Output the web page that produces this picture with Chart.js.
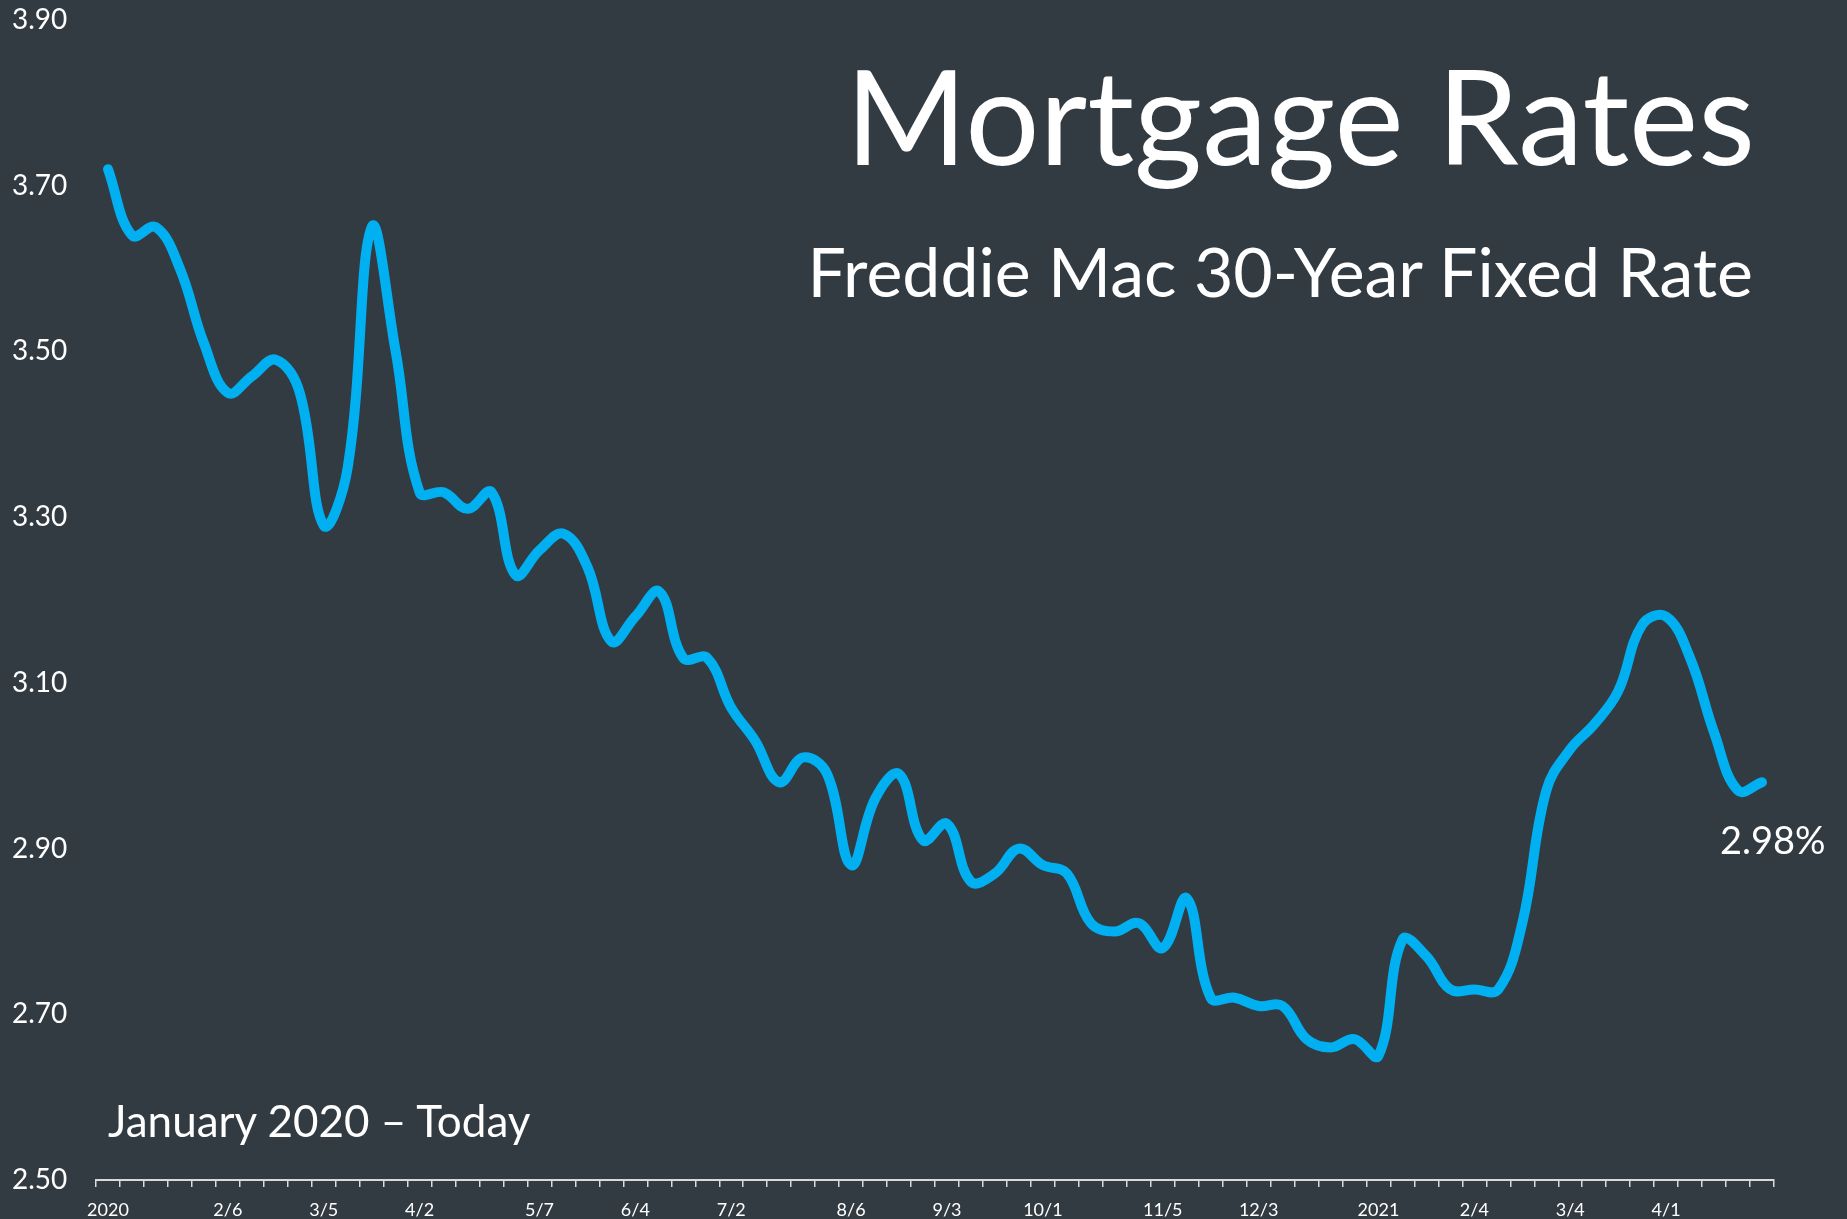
<!DOCTYPE html>
<html>
<head>
<meta charset="utf-8">
<script src="https://cdn.jsdelivr.net/npm/chart.js@4.4.1/dist/chart.umd.min.js"></script>
<style>
  body { margin: 0; background: #323a42; overflow: hidden; }
  #wrap { position: relative; width: 1847px; height: 1219px; }
  .txt { position: absolute; color: #ffffff; font-family: Lato, "Open Sans", sans-serif; line-height: 1; white-space: nowrap; }
  #titulo { right: 92px; top: 49px; font-size: 131px; font-weight: 400; }
  #subtitulo { right: 94px; top: 237px; font-size: 68px; }
  #periodo { left: 108px; top: 1098px; font-size: 44px; }
</style>
</head>
<body>
<div id="wrap">
  <canvas id="grafico" width="1847" height="1219"></canvas>
  <div class="txt" id="titulo">Mortgage Rates</div>
  <div class="txt" id="subtitulo">Freddie Mac 30-Year Fixed Rate</div>
  <div class="txt" id="periodo">January 2020 – Today</div>
</div>
<script>
// semanas (quintas-feiras) de jan/2020 a abr/2021
let semanas = [
  "2020", "", "", "", "",
  "2/6", "", "", "",
  "3/5", "", "", "",
  "4/2", "", "", "", "",
  "5/7", "", "", "",
  "6/4", "", "", "",
  "7/2", "", "", "", "",
  "8/6", "", "", "",
  "9/3", "", "", "",
  "10/1", "", "", "", "",
  "11/5", "", "", "",
  "12/3", "", "", "", "",
  "2021", "", "", "",
  "2/4", "", "", "",
  "3/4", "", "", "",
  "4/1", "", "", "", ""
];

let taxas = [
  3.72, 3.64, 3.65, 3.60, 3.51,
  3.45, 3.47, 3.49, 3.45,
  3.29, 3.36, 3.65, 3.50,
  3.33, 3.33, 3.31, 3.33, 3.23,
  3.26, 3.28, 3.24, 3.15,
  3.18, 3.21, 3.13, 3.13,
  3.07, 3.03, 2.98, 3.01, 2.99,
  2.88, 2.96, 2.99, 2.91,
  2.93, 2.86, 2.87, 2.90,
  2.88, 2.87, 2.81, 2.80, 2.81,
  2.78, 2.84, 2.72, 2.72,
  2.71, 2.71, 2.67, 2.66, 2.67,
  2.65, 2.79, 2.77, 2.73,
  2.73, 2.73, 2.81, 2.97,
  3.02, 3.05, 3.09, 3.17,
  3.18, 3.13, 3.04, 2.97, 2.98
];

let eixoY = { min: 2.5, max: 3.9, passo: 0.2 };

let corLinha = "#00b0f0";
let corTexto = "#ffffff";
let corEixo = "#d9d9d9";

// rótulo com o último valor
let rotuloFinal = {
    id: "rotuloFinal",
    afterDatasetsDraw(chart) {
        let pontos = chart.getDatasetMeta(0).data;
        let ultimo = pontos[pontos.length - 1];
        let ctx = chart.ctx;
        ctx.save();
        ctx.fillStyle = corTexto;
        ctx.font = "38px Lato, 'Open Sans', sans-serif";
        ctx.textAlign = "left";
        ctx.textBaseline = "alphabetic";
        ctx.fillText(taxas[taxas.length - 1].toFixed(2) + "%", ultimo.x - 42, ultimo.y + 72);
        ctx.restore();
    }
};

let ctx = document.getElementById("grafico").getContext("2d");

let grafico = new Chart(ctx, {
    type: "line",
    data: {
        labels: semanas,
        datasets: [{
            data: taxas,
            borderColor: corLinha,
            borderWidth: 10,
            borderCapStyle: "round",
            borderJoinStyle: "round",
            pointRadius: 0,
            tension: 0.4,
            fill: false
        }]
    },
    options: {
        responsive: false,
        animation: false,
        layout: {
            padding: { left: 12, top: 20, right: 73, bottom: 0 }
        },
        scales: {
            x: {
                offset: true,
                afterFit: function(scale) { scale.height = 39; },
                border: { display: true, color: corEixo, width: 2 },
                grid: {
                    offset: true,
                    drawOnChartArea: false,
                    drawTicks: true,
                    tickLength: 7,
                    color: corEixo,
                    lineWidth: 1.5
                },
                ticks: {
                    autoSkip: false,
                    maxRotation: 0,
                    padding: 12,
                    color: corTexto,
                    font: { family: "Lato, 'Open Sans', sans-serif", size: 18 }
                }
            },
            y: {
                min: eixoY.min,
                max: eixoY.max,
                afterFit: function(scale) { scale.width = 84; },
                border: { display: false },
                grid: { display: false, drawTicks: false },
                ticks: {
                    stepSize: eixoY.passo,
                    crossAlign: "far",
                    color: corTexto,
                    font: { family: "Lato, 'Open Sans', sans-serif", size: 28 },
                    callback: function(v) { return Number(v).toFixed(2); }
                }
            }
        },
        plugins: {
            legend: { display: false },
            tooltip: { enabled: false }
        }
    },
    plugins: [rotuloFinal]
});
</script>
</body>
</html>
